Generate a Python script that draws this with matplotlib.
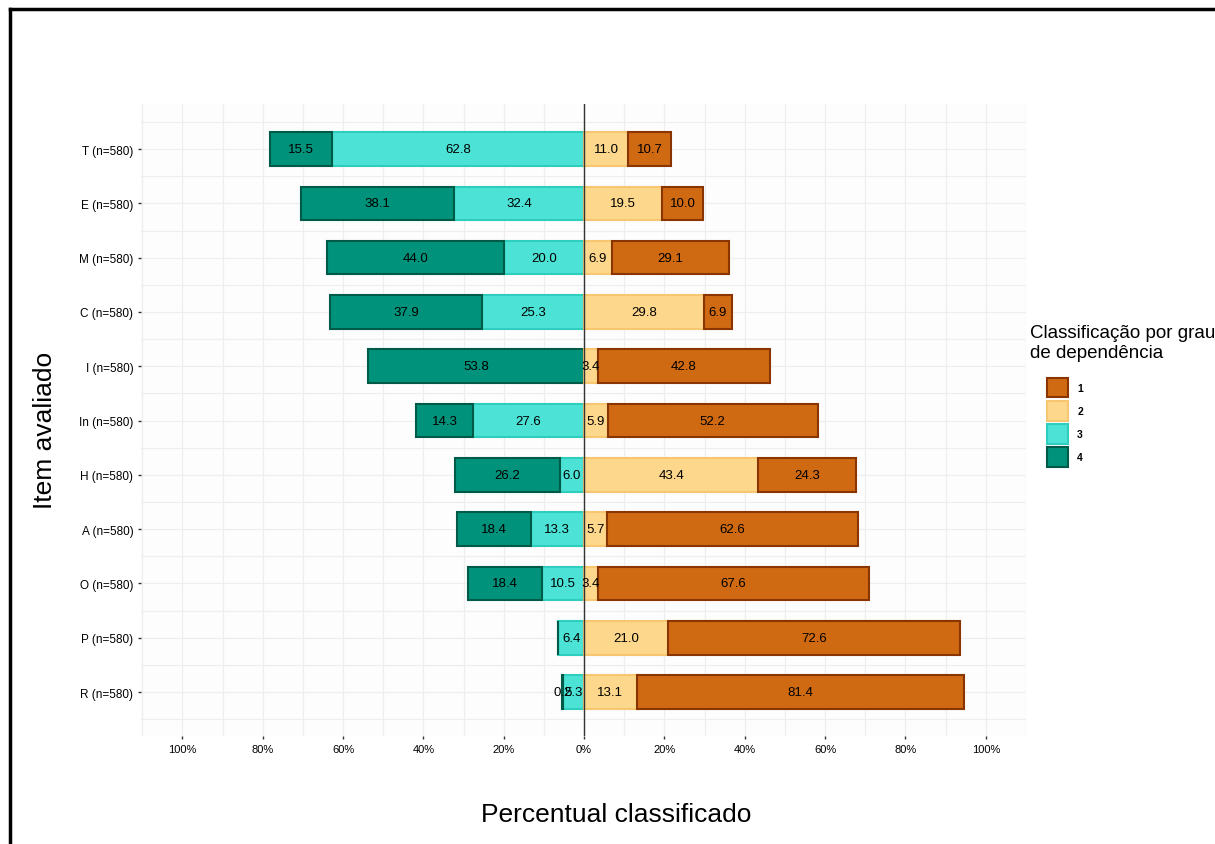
import matplotlib.pyplot as plt
from matplotlib.patches import Patch
from matplotlib.lines import Line2D
import numpy as np

plt.rcParams['font.family'] = ['Liberation Sans', 'DejaVu Sans']

# items from top to bottom
items = ['T', 'E', 'M', 'C', 'I', 'In', 'H', 'A', 'O', 'P', 'R']
n_obs = 580
# percent per dependency class
g4 = [15.5, 38.1, 44.0, 37.9, 53.8, 14.3, 26.2, 18.4, 18.4, 0.0, 0.2]
g3 = [62.8, 32.4, 20.0, 25.3, 0.0, 27.6, 6.0, 13.3, 10.5, 6.4, 5.3]
g2 = [11.0, 19.5, 6.9, 29.8, 3.4, 5.9, 43.4, 5.7, 3.4, 21.0, 13.1]
g1 = [10.7, 10.0, 29.1, 6.9, 42.8, 52.2, 24.3, 62.6, 67.6, 72.6, 81.4]

xticks = [-100, -80, -60, -40, -20, 0, 20, 40, 60, 80, 100]

face = {'1': '#CF6A12', '2': '#FDD88C', '3': '#4CE3D6', '4': '#00927A'}
edge = {'1': '#8A3500', '2': '#F6C670', '3': '#2ECDBE', '4': '#005A48'}

fig = plt.figure(figsize=(12.15, 8.45), dpi=100)
ax = fig.add_axes([141 / 1215, 1 - 737 / 845, 885 / 1215, 632 / 845])
ax.set_facecolor('#FDFDFD')

y = np.arange(len(items))[::-1]
h = 0.62
g1a, g2a, g3a, g4a = map(np.array, (g1, g2, g3, g4))

ax.barh(y, -g3a, height=h, color=face['3'], edgecolor=edge['3'], linewidth=1.5, zorder=3)
ax.barh(y, -g4a, left=-g3a, height=h, color=face['4'], edgecolor=edge['4'], linewidth=1.5, zorder=3)
ax.barh(y, g2a, height=h, color=face['2'], edgecolor=edge['2'], linewidth=1.5, zorder=3)
ax.barh(y, g1a, left=g2a, height=h, color=face['1'], edgecolor=edge['1'], linewidth=1.5, zorder=3)

def put_labels(vals, centers):
    for yy, v, c in zip(y, vals, centers):
        if v > 0:
            ax.text(c, yy, f'{v:.1f}', ha='center', va='center', fontsize=9.5, zorder=5)

put_labels(g3a, -g3a / 2)
put_labels(g4a, -g3a - g4a / 2)
put_labels(g2a, g2a / 2)
put_labels(g1a, g2a + g1a / 2)

ax.axvline(0, color='#333333', lw=1.0, zorder=4)

ax.set_xlim(-110.3, 110)
ax.set_ylim(-0.81, 10.83)
ax.set_xticks(xticks)
ax.set_xticklabels([f'{abs(t)}%' for t in xticks], fontsize=8)
ax.set_xticks(np.arange(-110, 111, 10), minor=True)
ax.set_yticks(y)
ax.set_yticklabels([f'{it} (n={n_obs})' for it in items], fontsize=8.5)
ax.set_yticks(np.arange(-0.5, 11, 1), minor=True)
ax.tick_params(which='major', length=2.5, width=1, color='#333333', pad=3)
ax.tick_params(which='minor', length=0)
ax.grid(True, which='both', color='#EEEEEE', lw=0.9, zorder=0)
ax.set_axisbelow(True)
for s in ax.spines.values():
    s.set_visible(False)

fig.text(616 / 1215, 1 - 815 / 845, 'Percentual classificado', ha='center', va='center', fontsize=19)
fig.text(45 / 1215, 1 - 430 / 845, 'Item avaliado', ha='center', va='center', fontsize=19, rotation=90)

# legend: title drawn separately so the keys sit indented like ggplot
fig.text(1030 / 1215, 1 - 325 / 845, 'Classificação por grau\nde dependência', ha='left', va='top',
         fontsize=13.5, linespacing=1.2)
handles = [Patch(facecolor=face[k], edgecolor=edge[k], linewidth=1.5, label=k) for k in ['1', '2', '3', '4']]
leg = fig.legend(handles=handles, loc='upper left', bbox_to_anchor=(1047 / 1215, 1 - 379 / 845),
                 fontsize=7.5, frameon=False, handlelength=2.0, handleheight=2.5, labelspacing=0.35,
                 handletextpad=0.9, borderpad=0, borderaxespad=0)
for t in leg.get_texts():
    t.set_fontweight('bold')

# screenshot frame
fig.add_artist(Line2D([10 / 1215, 10 / 1215], [0, 1 - 10 / 845], color='black', lw=2.5, transform=fig.transFigure))
fig.add_artist(Line2D([10 / 1215, 1], [1 - 10 / 845, 1 - 10 / 845], color='black', lw=2.5, transform=fig.transFigure))

fig.savefig('out.png', dpi=100)
